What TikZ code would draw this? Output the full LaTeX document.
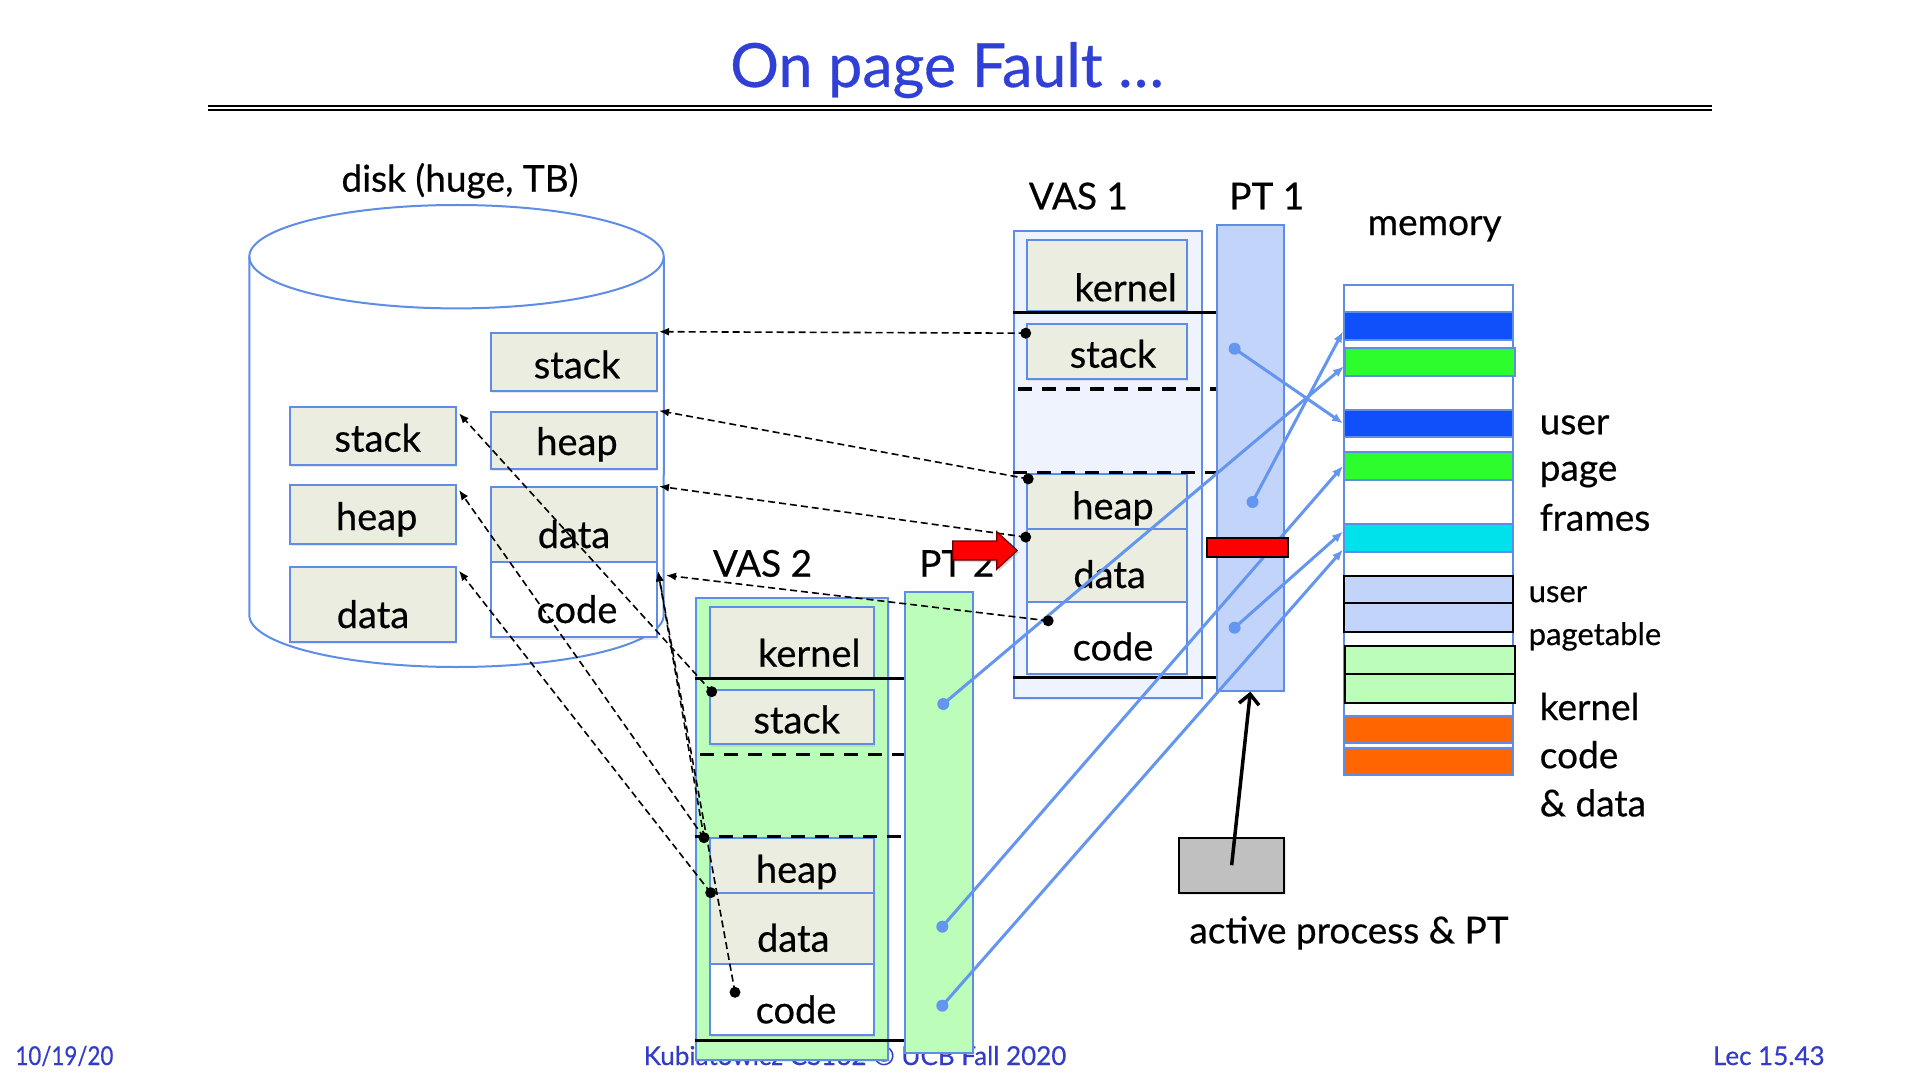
\documentclass[tikz,border=0pt]{standalone}
\usepackage{fontspec}
\setmainfont{Lato}[FakeBold=0.5]
\usetikzlibrary{arrows.meta,fit,calc,shadows}

\definecolor{bord}{RGB}{95,140,230}
\definecolor{segfill}{RGB}{235,237,224}
\definecolor{vasblue}{RGB}{238,243,253}
\definecolor{ptblue}{RGB}{194,212,250}
\definecolor{pgreen}{RGB}{188,253,186}
\definecolor{memblue}{RGB}{16,80,250}
\definecolor{memgreen}{RGB}{45,252,45}
\definecolor{memcyan}{RGB}{0,226,235}
\definecolor{memorange}{RGB}{255,102,0}
\definecolor{link}{RGB}{100,150,240}
\definecolor{titleblue}{RGB}{48,64,214}
\definecolor{footblue}{RGB}{50,60,200}
\definecolor{procgray}{RGB}{192,192,192}

\newcommand\narrowfoot[1]{\scalebox{0.86}[1]{#1}}

\begin{document}
\begin{tikzpicture}[x=0.5pt,y=-0.5pt,
  softshadow/.style={drop shadow={opacity=0.18, shadow xshift=0.6pt, shadow yshift=-1.2pt}},
  seg/.style={draw=bord, fill=segfill, line width=1pt, inner sep=0pt, softshadow},
  blank/.style={seg, fill=white},
  holder/.style={draw=bord, line width=1pt, inner sep=0pt, softshadow},
  frame/.style={draw=bord, line width=1pt, inner sep=0pt},
  blackframe/.style={draw=black, line width=1pt, inner sep=0pt},
  segtext/.style={font=\fontsize{19}{22}\selectfont, inner sep=0pt, anchor=base},
  lbl/.style={font=\fontsize{18.5}{22}\selectfont, inner sep=0pt, anchor=base},
  sidelbl/.style={font=\fontsize{18.5}{22}\selectfont, inner sep=0pt, anchor=base west},
  smalllbl/.style={font=\fontsize{15.5}{18}\selectfont, inner sep=0pt, anchor=base west},
  foot/.style={font=\fontsize{13}{15}\selectfont, text=footblue, inner sep=0pt},
  bound/.style={line width=1.65pt},
  gapline/.style={line width=1.65pt, dash pattern=on 7pt off 5pt},
  swapout/.style={line width=0.8pt, dash pattern=on 3.5pt off 2pt, -{Latex[length=5pt,width=4pt]}},
  xlate/.style={draw=link, line width=1.5pt, -{Latex[length=5.5pt,width=4.5pt]}},
  dot/.style={circle, fill=black, inner sep=0pt, minimum size=5.5pt},
  pdot/.style={circle, fill=link, inner sep=0pt, minimum size=6pt}
]
\useasboundingbox (0,0) rectangle (1920,1080);
\fill[white] (0,0) rectangle (1920,1080);

% footer
\node[foot, anchor=base west] (fdate) at (15,1065) {\narrowfoot{10/19/20}};
\node[foot, anchor=base] (fcourse) at (855,1065) {Kubiatowicz CS162 © UCB Fall 2020};
\node[foot, anchor=base east] (flec) at (1825,1065) {Lec 15.43};

% title
\node[font=\fontsize{30.5}{34}\selectfont, text=titleblue, inner sep=0pt, anchor=base] (title) at (947,87) {On page Fault …};
\draw[line width=1pt] (208,105.8) -- (1712,105.8);
\draw[line width=1pt] (208,110.4) -- (1712,110.4);

% disk cylinder
\node[lbl] (disklbl) at (460,191.7) {disk (huge, TB)};
\draw[bord, line width=1pt, fill=white]
  (249.3,256.7) -- (249.3,615) arc[start angle=180, end angle=360, x radius=103.6pt, y radius=26pt]
  -- (663.8,256.7);
\draw[bord, line width=1pt] (456.5,256.7) ellipse [x radius=103.6pt, y radius=25.85pt];

% blocks on disk
\node[seg, fit={(491,332.7) (657,390.7)}] (dS) {};
\node[seg, fit={(491,411.7) (657,469)}] (dH) {};
\node[seg, fit={(491,487.3) (657,562.3)}] (dD) {};
\node[blank, fit={(491,562.3) (657,637.3)}] (dC) {};
\node[seg, fit={(290,407.3) (456,465)}] (lS) {};
\node[seg, fit={(290,485) (456,544)}] (lH) {};
\node[seg, fit={(290,566.7) (456,641.7)}] (lD) {};
\node[segtext] at (577,378.3) {stack};
\node[segtext] at (577,455) {heap};
\node[segtext] at (574,548) {data};
\node[segtext] at (577,623) {code};
\node[segtext] at (377.7,451.7) {stack};
\node[segtext] at (376.7,530) {heap};
\node[segtext] at (373,628) {data};

% virtual address space 1 and its page table
\node[lbl] (vas1lbl) at (1078.4,209.3) {VAS 1};
\node[lbl] (pt1lbl) at (1266.8,209.3) {PT 1};
\node[holder, fill=vasblue, fit={(1013.9,231) (1201.8,697.6)}] (v1) {};
\node[seg, fit={(1026.8,239.6) (1186.8,311.5)}] (v1K) {};
\node[seg, fit={(1026.8,323.6) (1186.8,379)}] (v1S) {};
\node[seg, fit={(1026.8,473.7) (1186.8,528.8)}] (v1H) {};
\node[seg, fit={(1026.8,528.8) (1186.8,601.8)}] (v1D) {};
\node[blank, fit={(1026.8,601.8) (1186.8,673.5)}] (v1C) {};
\node[segtext] at (1125.7,301.2) {kernel};
\node[segtext] at (1113,367.7) {stack};
\node[segtext] at (1113,519.2) {heap};
\node[segtext] at (1109.6,588) {data};
\node[segtext] at (1113,660.4) {code};
\node[frame, fill=ptblue, fit={(1216.8,224.8) (1283.9,690.7)}] (pt1) {};
\draw[bound] (v1.west |- v1K.south) -- (pt1.west |- v1K.south);
\draw[gapline] (1018,389) -- (pt1.west |- 0,389);
\draw[gapline] (v1.west |- v1H.north) -- (pt1.west |- v1H.north);
\draw[bound] (v1.west |- 0,677.6) -- (pt1.west |- 0,677.6);

% virtual address space 2 and its page table
\node[lbl] (vas2lbl) at (762.5,576.7) {VAS 2};
\node[lbl] (pt2lbl) at (956.7,576.7) {PT 2};
\node[holder, fill=pgreen, fit={(695.7,598.3) (888.3,1060)}] (v2) {};
\node[seg, fit={(710,606.7) (874,677.7)}] (v2K) {};
\node[seg, fit={(710,690) (874,744.3)}] (v2S) {};
\node[seg, fit={(710,837.7) (874,892.7)}] (v2H) {};
\node[seg, fit={(710,892.7) (874,964.3)}] (v2D) {};
\node[blank, fit={(710,964.3) (874,1035)}] (v2C) {};
\node[segtext] at (809.3,666.7) {kernel};
\node[segtext] at (796.7,733.3) {stack};
\node[segtext] at (796.7,882.7) {heap};
\node[segtext] at (793.3,951.7) {data};
\node[segtext] at (796,1023.3) {code};
\node[frame, fill=pgreen, fit={(905,592.3) (972.7,1052.7)}] (pt2) {};
\draw[bound] (v2.west |- v2K.south) -- (pt2.west |- v2K.south);
\draw[gapline] (700,754.3) -- (pt2.west |- 0,754.3);
\draw[gapline] (v2.west |- v2H.north) -- (pt2.west |- v2H.north);
\draw[bound] (v2.west |- 0,1040.7) -- (pt2.west |- 0,1040.7);

% physical memory
\node[lbl] (memlbl) at (1434.6,235.1) {memory};
\node[frame, fill=white, fit={(1344,285) (1512.5,774.6)}] (mem) {};
\node[frame, fill=memblue, fit={(1344,312.4) (1512.5,340.2)}] (m1) {};
\node[frame, fill=memgreen, fit={(1345,348.3) (1514.5,376.4)}] (m2) {};
\node[frame, fill=memblue, fit={(1344,409.6) (1512.5,437.2)}] (m3) {};
\node[frame, fill=memgreen, fit={(1344,452) (1512.5,479.8)}] (m4) {};
\node[frame, fill=memcyan, fit={(1344,523.5) (1512.5,551.6)}] (m5) {};
\node[blackframe, fill=ptblue, fit={(1344,576) (1512.5,602.9)}] (u1) {};
\node[blackframe, fill=ptblue, fit={(1344,602.9) (1512.5,631.6)}] (u2) {};
\node[blackframe, fill=pgreen, fit={(1345,645.8) (1515,673.6)}] (g1) {};
\node[blackframe, fill=pgreen, fit={(1345,673.6) (1515,702.6)}] (g2) {};
\node[frame, fill=memorange, fit={(1344,715.7) (1512.5,743.2)}] (o1) {};
\node[frame, fill=memorange, fit={(1344,747.5) (1512.5,774.6)}] (o2) {};
\node[sidelbl] at (1539.3,434.3) {user};
\node[sidelbl] at (1539.3,480.7) {page};
\node[sidelbl] at (1539.3,530.7) {frames};
\node[smalllbl] at (1528.3,602.1) {user};
\node[smalllbl] at (1528.3,645) {pagetable};
\node[sidelbl] at (1539.3,720) {kernel};
\node[sidelbl] at (1539.3,768.2) {code};
\node[sidelbl] at (1539.3,816.4) {\& data};

% active process register
\node[blackframe, fill=procgray, softshadow, fit={(1179,837.7) (1284.3,892.7)}] (proc) {};
\node[lbl] (proclbl) at (1349,943.3) {active process \& PT};
\draw[line width=1.75pt, -{Straight Barb[length=5pt,width=10pt,line width=1.75pt]}] (proc.center) -- (pt1.south);

% page table entries
\node[pdot] (p1a) at (1234.6,348.7) {};
\node[pdot] (p1b) at (1252.5,502) {};
\node[pdot] (p1c) at (1234.6,627.7) {};
\node[pdot] (p2a) at (943.3,704) {};
\node[pdot] (p2b) at (942.3,926.7) {};
\node[pdot] (p2c) at (942.3,1005.7) {};
\draw[xlate] (p1a.center) -- (m3.west);
\draw[xlate] (p1b.center) -- ([yshift=-2.5pt]m1.west);
\draw[xlate] (p1c.center) -- ([yshift=3pt]m5.west);
\draw[xlate] (p2a.center) -- ([yshift=-2pt]m2.west);
\draw[xlate] (p2b.center) -- (m4.west);
\draw[xlate] (p2c.center) -- ([yshift=-6pt]m5.west);

% invalid entry
\node[blackframe, fill=red, fit={(1206.8,538.1) (1288.2,557.1)}] (bad) {};

% segments backed by disk
\node[dot] (d1s) at (1025.7,333.2) {};
\node[dot] (d1h) at (1028.2,478.9) {};
\node[dot] (d1d) at (1025.7,537.1) {};
\node[dot] (d1c) at (1048.2,620.8) {};
\node[dot] (d2s) at (711.7,691.7) {};
\node[dot] (d2h) at (704,837.7) {};
\node[dot] (d2d) at (710.7,892.7) {};
\node[dot] (d2c) at (735,992.3) {};
\draw[swapout] (d1s.center) -- ([xshift=0.5pt]dS.north east);
\draw[swapout] (d1h.center) -- ([xshift=0.5pt]dH.north east);
\draw[swapout] (d1d.center) -- ([xshift=0.5pt]dD.north east);
\draw[swapout] (d1c.center) -- ([shift={(8,14)}]dC.north east);
\draw[swapout] (d2s.center) -- ([shift={(2,7)}]lS.north east);
\draw[swapout] (d2h.center) -- ([shift={(2,6)}]lH.north east);
\draw[swapout] (d2d.center) -- ([shift={(2,5)}]lD.north east);
\draw[swapout] (d2h.center) -- ([shift={(0,10)}]dC.north east);
\draw[swapout] (d2c.center) -- ([shift={(0,10)}]dC.north east);

% faulting access
\draw[fill=red, draw=black!60!red, line width=0.6pt, drop shadow={opacity=0.3, shadow xshift=1pt, shadow yshift=-1pt}]
  (952.7,541) -- (996.7,541) -- (996.7,531.7) -- (1017.3,550.5)
  -- (996.7,569.3) -- (996.7,560) -- (952.7,560) -- cycle;
\end{tikzpicture}
\end{document}
